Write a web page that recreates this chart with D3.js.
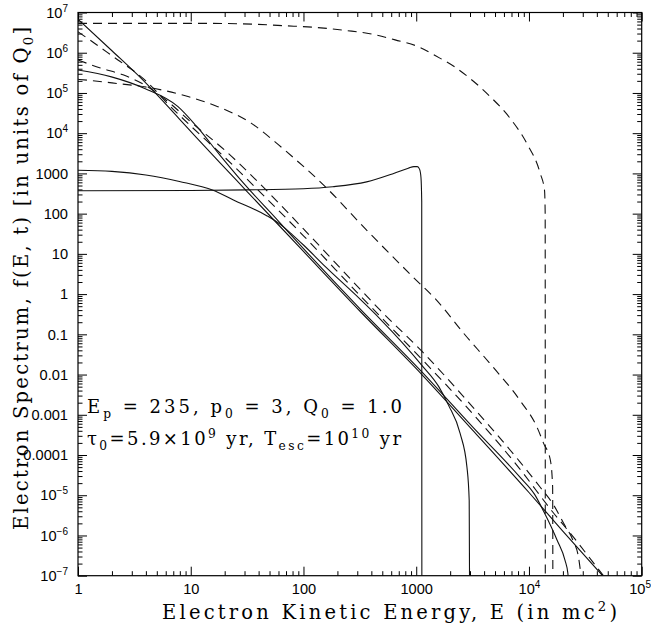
<!DOCTYPE html>
<html>
<head>
<meta charset="utf-8">
<script src="https://cdn.jsdelivr.net/npm/d3@7"></script>
<style>
body { margin: 0; background: #fff; }
svg text { fill: #000; }
</style>
</head>
<body>
<div id="chart"></div>
<script>
// Electron energies (mc^2) and spectrum values f(E,t)
var s1E = [1, 10, 31.6, 100, 182, 363, 631, 851, 955, 1023, 1072, 1102, 1119, 1122];
var s1F = [372, 376, 389, 417, 468, 617, 1000, 1349, 1479, 1479, 1259, 794, 200, 6e-8];

var s2E = [1, 2, 4, 7.94, 15.8, 23.9, 47.2, 63.1, 79.4, 100, 158, 316, 479, 1122, 1585, 1932, 2455, 2818, 2951, 2972];
var s2F = [1202, 1122, 912, 631, 380, 219, 89.1, 52.5, 30.2, 16.6, 4.68, 0.759, 0.24, 0.017, 5.01e-3, 1.74e-3, 3.39e-4, 5.01e-5, 7.41e-6, 6.3e-8];

var s3E = [1, 1.98, 3.91, 7.71, 11.2, 18.2, 30.2, 56.2, 100, 316, 1122, 3162, 8318, 11220, 13490, 17780, 20890, 22130, 22390];
var s3F = [3.72e5, 2.51e5, 1.29e5, 4.57e4, 1.51e4, 2818, 525, 79.4, 13.5, 0.437, 0.0117, 5.0e-4, 2.82e-5, 1.05e-5, 3.98e-6, 7.59e-7, 2.40e-7, 1.15e-7, 7.9e-8];

var s4E = [1, 2, 3.89, 7.94, 18.2, 31.6, 100, 316, 1122, 3162, 10000, 19950, 44980];
var s4F = [6.76e6, 1.12e6, 1.91e5, 2.24e4, 1820, 355, 11.5, 0.38, 0.01, 4.17e-4, 1.17e-5, 1.29e-6, 1e-7];

var d1E = [1, 13.4, 34.7, 68.7, 127, 242, 377, 650, 1084, 1472, 2213, 3006, 4529, 6808, 9550, 12590, 13740, 13930, 13960];
var d1F = [5.37e6, 5.37e6, 5.13e6, 4.68e6, 4.27e6, 3.55e6, 3.02e6, 2.09e6, 1.35e6, 8.51e5, 4.37e5, 2.29e5, 8.13e4, 2.34e4, 5620, 1000, 380, 100, 6e-8];

var d2E = [1, 2, 4.79, 9.46, 17.4, 34.3, 55.6, 70.8, 151, 363, 933, 1514, 2630, 4786, 8318, 11750, 13490, 15490, 16220, 16290];
var d2F = [2.19e5, 1.78e5, 1.29e5, 8.13e4, 4.57e4, 1.78e4, 6166, 3467, 513, 38.9, 2.69, 0.708, 0.107, 0.0155, 2.29e-3, 5.01e-4, 1.95e-4, 7.41e-5, 1.58e-5, 6e-8];

var d3E = [1, 1.41, 2.26, 3.18, 4, 6.31, 10, 20, 39.8, 100, 316, 1122, 3162, 8318, 15850, 25120, 35480, 45710];
var d3F = [3.31e6, 1.70e6, 6.61e5, 3.39e5, 2.0e5, 5.25e4, 1.51e4, 2512, 380, 28.2, 0.933, 0.024, 1.07e-3, 4.47e-5, 4.17e-6, 8.71e-7, 2.51e-7, 1e-7];

var d4E = [1, 1.58, 2.51, 3.8, 6.31, 10, 20, 39.8, 100, 316, 479, 1122, 3162, 8318, 12590, 16600, 20420, 24550, 27540, 29510];
var d4F = [6.61e5, 4.17e5, 2.82e5, 1.66e5, 6.03e4, 1.91e4, 3802, 603, 41.7, 1.35, 0.398, 0.038, 1.58e-3, 6.76e-5, 1.58e-5, 5.62e-6, 1.95e-6, 7.59e-7, 2.82e-7, 6.3e-8];

var xTicks = [1, 10, 100, 1000, 1e4, 1e5];
var yTicks = [1e7, 1e6, 1e5, 1e4, 1000, 100, 10, 1, 0.1, 0.01, 0.001, 1e-4, 1e-5, 1e-6, 1e-7];

var W = 651, H = 630;
var L = 78, R = 641.7, T = 12.5, B = 575.7;

var x = d3.scaleLog().domain([1, 1e5]).range([L, R]);
var y = d3.scaleLog().domain([1e-7, 1e7]).range([B, T]);

var svg = d3.select("#chart").append("svg")
	.attr("width", W)
	.attr("height", H);

svg.append("clipPath").attr("id", "plotclip")
	.append("rect")
	.attr("x", L).attr("y", T)
	.attr("width", R - L).attr("height", B - T);

function minors(lo, hi) {
	var out = [];
	for (var d = lo; d < hi; d++)
		for (var k = 2; k < 10; k++) out.push(k * Math.pow(10, d));
	return out;
}

// label text pieces for a decade tick
function tickParts(v) {
	var e = Math.round(Math.log10(v));
	if (e >= 4 || e <= -5) return [["10", ""], [e < 0 ? "\u2212" + (-e) : "" + e, "sup"]];
	return [[e >= 0 ? String(Math.round(Math.pow(10, e))) : v.toFixed(-e), ""]];
}

function fillParts(sel, parts, supSize, supShift) {
	sel.text(null);
	parts.forEach(function(p) {
		var t = sel.append("tspan").text(p[0]);
		if (p[1] == "sup") t.attr("font-size", supSize).attr("dy", -supShift);
	});
}

var tickFont = "'Liberation Sans', Arial, sans-serif";

function drawAxis(axis, tx, ty, labels) {
	var g = svg.append("g")
		.attr("transform", "translate(" + tx + "," + ty + ")")
		.call(axis);
	g.select(".domain").remove();
	g.selectAll(".tick line").attr("stroke", "#000").attr("stroke-width", 1);
	if (labels) {
		g.selectAll(".tick text")
			.attr("font-family", tickFont)
			.attr("font-size", 14.6)
			.each(function(d) { fillParts(d3.select(this), tickParts(d), 10, 6); });
	} else {
		g.selectAll(".tick text").remove();
	}
	return g;
}

// major and minor ticks, pointing inwards on all four sides
var xg = drawAxis(d3.axisBottom(x).tickValues(xTicks).tickSize(-9).tickPadding(8), 0, B, true);
// the last label sits at the right edge of the page
xg.selectAll(".tick text").filter(function(d) { return d == 1e5; })
	.attr("text-anchor", "end").attr("dx", 651 - R - 0.5);
drawAxis(d3.axisBottom(x).tickValues(minors(0, 5)).tickSize(-4.5), 0, B, false);
drawAxis(d3.axisTop(x).tickValues(xTicks).tickSize(-9), 0, T, false);
drawAxis(d3.axisTop(x).tickValues(minors(0, 5)).tickSize(-4.5), 0, T, false);
drawAxis(d3.axisLeft(y).tickValues(yTicks).tickSize(-9).tickPadding(10), L, 0, true);
drawAxis(d3.axisLeft(y).tickValues(minors(-7, 7)).tickSize(-4.5), L, 0, false);
drawAxis(d3.axisRight(y).tickValues(yTicks).tickSize(-9), R, 0, false);
drawAxis(d3.axisRight(y).tickValues(minors(-7, 7)).tickSize(-4.5), R, 0, false);

svg.append("rect")
	.attr("x", L).attr("y", T)
	.attr("width", R - L).attr("height", B - T)
	.attr("fill", "none")
	.attr("stroke", "#000")
	.attr("stroke-width", 1.2);

var series = [
	{E: s1E, F: s1F, dash: false},
	{E: s2E, F: s2F, dash: false},
	{E: s3E, F: s3F, dash: false},
	{E: s4E, F: s4F, dash: false},
	{E: d1E, F: d1F, dash: true},
	{E: d2E, F: d2F, dash: true},
	{E: d3E, F: d3F, dash: true},
	{E: d4E, F: d4F, dash: true}
];

var line = d3.line()
	.x(function(d) { return x(d[0]); })
	.y(function(d) { return y(d[1]); })
	.curve(d3.curveMonotoneX);

svg.append("g")
	.attr("clip-path", "url(#plotclip)")
	.selectAll("path")
	.data(series)
	.enter().append("path")
	.attr("d", function(s) { return line(d3.zip(s.E, s.F)); })
	.attr("fill", "none")
	.attr("stroke", "#111")
	.attr("stroke-width", 1.1)
	.attr("stroke-dasharray", function(s) { return s.dash ? "9,6" : null; });

// rich text with sub/superscripts
function richText(parent, parts, size) {
	var t = parent.append("text")
		.attr("font-family", "'DejaVu Serif', 'Liberation Serif', serif")
		.attr("font-size", size);
	var shift = 0;
	parts.forEach(function(p) {
		var want = p[1] == "sub" ? size * 0.28 : p[1] == "sup" ? -size * 0.4 : 0;
		var span = t.append("tspan").text(p[0]).attr("dy", want - shift);
		if (p[1]) span.attr("font-size", size * 0.68);
		shift = want;
	});
	return t;
}

var annot1 = [["E", ""], ["p", "sub"], [" = 235, p", ""], ["0", "sub"], [" = 3, Q", ""], ["0", "sub"], [" = 1.0", ""]];
var annot2 = [["\u03c4", ""], ["0", "sub"], ["=5.9\u00d710", ""], ["9", "sup"], [" yr, T", ""], ["esc", "sub"], ["=10", ""], ["10", "sup"], [" yr", ""]];

richText(svg, annot1, 18).attr("x", 87).attr("y", 413).attr("textLength", 315).attr("lengthAdjust", "spacing");
richText(svg, annot2, 18).attr("x", 87).attr("y", 445).attr("textLength", 314).attr("lengthAdjust", "spacing");

richText(svg, [["Electron Kinetic Energy, E (in mc", ""], ["2", "sup"], [")", ""]], 19.5)
	.attr("x", 162).attr("y", 619)
	.attr("textLength", 455).attr("lengthAdjust", "spacing");

richText(svg, [["Electron Spectrum, f(E, t) [in units of Q", ""], ["0", "sub"], ["]", ""]], 19.5)
	.attr("transform", "translate(28," + 530 + ") rotate(-90)")
	.attr("textLength", 503).attr("lengthAdjust", "spacing");
</script>
</body>
</html>
